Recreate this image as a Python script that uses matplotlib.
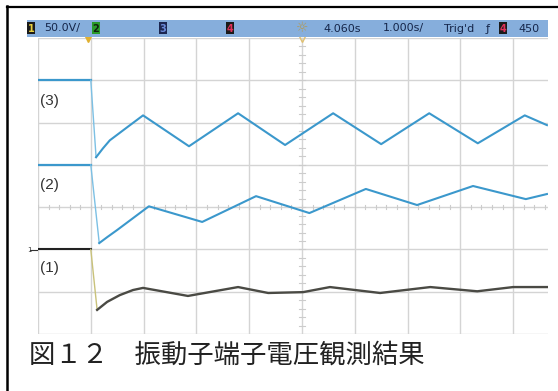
import numpy as np
import matplotlib
matplotlib.use("Agg")
import matplotlib.pyplot as plt
from matplotlib.patches import Rectangle
from matplotlib.lines import Line2D

plt.rcParams['font.family'] = ['DejaVu Sans']

# scope settings
delay = 4.060      # s, centre of screen relative to trigger
tdiv = 1.0         # s/div
t_left = delay - 5 * tdiv
t_right = t_left + 9.66 * tdiv

# traces: time (s from trigger) and level (divisions from centre)
t3 = [t_left, 0.06, 0.16, 0.29, 0.42, 0.75, 1.05, 1.92, 2.85, 3.74, 4.65, 5.56, 6.47, 7.39, 8.28, 8.70]
v3 = [3.0, 3.0, 1.18, 1.39, 1.58, 1.89, 2.17, 1.44, 2.22, 1.47, 2.22, 1.49, 2.22, 1.51, 2.17, 1.94]

t2 = [t_left, 0.06, 0.22, 0.37, 0.56, 0.86, 1.16, 2.17, 3.19, 4.20, 5.27, 6.24, 7.30, 8.30, 8.70]
v2 = [1.0, 1.0, -0.85, -0.71, -0.54, -0.26, 0.02, -0.35, 0.26, -0.14, 0.43, 0.05, 0.50, 0.19, 0.31]

t1 = [t_left, 0.06, 0.18, 0.37, 0.61, 0.86, 1.05, 1.90, 2.85, 3.42, 4.08, 4.59, 5.54, 6.49, 7.38, 8.06, 8.70]
v1 = [-1.0, -1.0, -2.43, -2.24, -2.08, -1.96, -1.91, -2.10, -1.89, -2.03, -2.01, -1.89, -2.03, -1.89, -1.99, -1.89, -1.89]

labels = ["(3)", "(2)", "(1)"]
label_y = [2.5, 0.52, -1.45]
caption = "図１２　振動子端子電圧観測結果"

W, H = 558, 391
fig = plt.figure(figsize=(W / 100, H / 100), dpi=100)
fig.patch.set_facecolor("white")

def fx(px):
    return px / W

def fy(py):
    return 1 - py / H

ax = fig.add_axes([fx(38), fy(334), fx(548) - fx(38), fy(38) - fy(334)])
ax.set_xlim(t_left, t_right)
ax.set_ylim(-3, 4)
ax.set_facecolor("white")
for s in ax.spines.values():
    s.set_visible(False)
ax.set_xticks([])
ax.set_yticks([])

# graticule
gcol = "#d4d4d4"
for k in range(0, 10):
    ax.axvline(t_left + k * tdiv, color=gcol, lw=1.0, zorder=1)
for k in range(-3, 5):
    ax.axhline(k, color=gcol, lw=1.0, zorder=1)
# minor ticks on the centre lines
for m in np.arange(t_left, t_right, tdiv / 5):
    ax.plot([m, m], [-0.05, 0.05], color="#cccccc", lw=0.8, zorder=1)
for m in np.arange(-3, 4, 0.2):
    ax.plot([delay - 0.05, delay + 0.05], [m, m], color="#cccccc", lw=0.8, zorder=1)

blue = "#3b98cc"
# channel 3 and 2: flat part, fast edge, then the rest
for tt, vv in [(t3, v3), (t2, v2)]:
    ax.plot(tt[:2], vv[:2], color=blue, lw=1.6, zorder=3)
    ax.plot(tt[1:3], vv[1:3], color="#7cc0e4", lw=1.0, zorder=3)
    ax.plot(tt[2:], vv[2:], color=blue, lw=1.5, zorder=3)

# channel 1
ax.plot(t1[:2], v1[:2], color="#222222", lw=1.5, zorder=3)
ax.plot(t1[1:3], v1[1:3], color="#c9c27a", lw=1.0, zorder=3)
ax.plot(t1[2:], v1[2:], color="#4a4a44", lw=1.7, zorder=3)

for lab, ly in zip(labels, label_y):
    ax.text(t_left + 0.03, ly, lab, fontsize=11, color="#333333",
            va="center", ha="left", family="Liberation Sans", zorder=4)

# ground marker of channel 1
fig.text(fx(27), fy(250), "1", fontsize=5, color="#333333", va="center", ha="left")
fig.add_artist(Line2D([fx(30), fx(37)], [fy(250), fy(250)], color="#333333", lw=0.8))

# status bar
fig.add_artist(Rectangle((fx(27), fy(37)), fx(548) - fx(27), fy(20) - fy(37),
                         facecolor="#86aedc", edgecolor="none"))
by = fy(28.5)
def chbox(px, num, fc, tc):
    fig.add_artist(Rectangle((fx(px), fy(34)), fx(8), fy(22) - fy(34),
                             facecolor=fc, edgecolor="none"))
    fig.text(fx(px + 4), by, num, fontsize=7, color=tc, ha="center", va="center",
             fontweight="bold")

chbox(27, "1", "#1a1a1a", "#e8d040")
chbox(92, "2", "#2a9a2a", "#102010")
chbox(159, "3", "#1c2650", "#6a8ad8")
chbox(226, "4", "#1a1a1a", "#e0305a")
chbox(499, "4", "#1a1a1a", "#e0305a")
tcol = "#15264a"
fig.text(fx(44), by, "50.0V/", fontsize=8, color=tcol, va="center")
fig.text(fx(302), by, "☼", fontsize=10, color="#b09a5a", va="center", ha="center",
         family=["DejaVu Sans"])
fig.text(fx(323), by, "4.060s", fontsize=8, color=tcol, va="center")
fig.text(fx(383), by, "1.000s/", fontsize=8, color=tcol, va="center")
fig.text(fx(444), by, "Trig'd", fontsize=8, color=tcol, va="center")
fig.text(fx(488), by, "ƒ", fontsize=8, color=tcol, va="center", ha="center")
fig.text(fx(518), by, "450", fontsize=8, color=tcol, va="center")

# trigger / delay markers under the bar
ax.plot([0.0], [3.97], marker="v", ms=5, color="#e0b030", clip_on=False, zorder=5)
ax.plot([delay], [3.97], marker="v", ms=5, mfc="none", mec="#e0c070", clip_on=False, zorder=5)

# outer frame
fig.add_artist(Line2D([fx(7), 1], [fy(6.5), fy(6.5)], color="black", lw=1.6))
fig.add_artist(Line2D([fx(7), fx(7)], [fy(6), 0], color="black", lw=1.8))

fig.text(fx(29), fy(355), caption, fontsize=19, color="#222222", va="center", ha="left",
         family=["Noto Sans CJK JP", "DejaVu Sans"])

fig.savefig("out.png", dpi=100)
